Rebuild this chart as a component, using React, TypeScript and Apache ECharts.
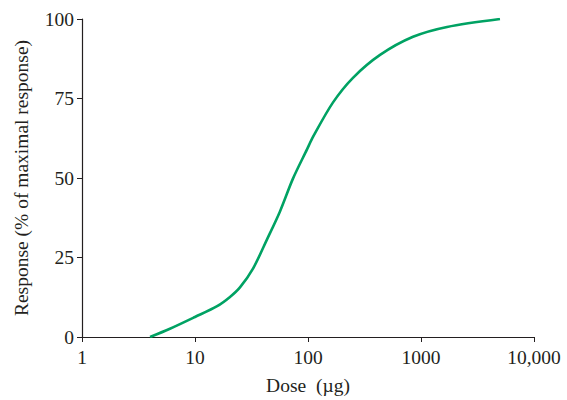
import React, { useEffect, useRef } from "react";
import * as echarts from "echarts";

const doses = [4.0, 6.0, 10, 15.7, 20.4, 25, 32.6, 43.4, 56.5, 73.6, 98, 111, 166, 250, 434, 850, 1700, 5000];
const responses = [0, 2.6, 6.3, 9.7, 12.6, 15.6, 21.5, 30.7, 39.5, 49.8, 59, 63, 73.7, 81.5, 88.7, 94.4, 97.5, 100];
const xTicks = [1, 10, 100, 1000, 10000];
const xTickLabels = ["1", "10", "100", "1000", "10,000"];
const yTicks = [0, 25, 50, 75, 100];

export default function App() {
  const ref = useRef<HTMLDivElement>(null);
  useEffect(() => {
    const chart = echarts.init(ref.current!, null, { renderer: "svg" });
    const font = "Liberation Serif";
    const fs = 19.5;
    chart.setOption({
      animation: false,
      backgroundColor: "#ffffff",
      grid: { left: 82, right: 33, top: 19, bottom: 62 },
      xAxis: {
        type: "log",
        logBase: 10,
        min: xTicks[0],
        max: xTicks[xTicks.length - 1],
        name: "Dose  (\u00b5g)",
        nameLocation: "middle",
        nameGap: 38,
        nameTextStyle: { fontFamily: font, fontSize: fs, color: "#231f20" },
        axisLine: { lineStyle: { color: "#231f20", width: 1.2 } },
        axisTick: { show: true, length: 5, lineStyle: { color: "#231f20" } },
        minorTick: { show: false },
        splitLine: { show: false },
        axisLabel: {
          fontFamily: font,
          fontSize: fs,
          color: "#231f20",
          margin: 10,
          formatter: (v: number) => {
            const i = xTicks.findIndex((t) => Math.abs(t - v) / t < 1e-6);
            return i >= 0 ? xTickLabels[i] : "";
          },
        },
      },
      yAxis: {
        type: "value",
        min: yTicks[0],
        max: yTicks[yTicks.length - 1],
        interval: 25,
        name: "Response (% of maximal response)",
        nameLocation: "middle",
        nameGap: 51,
        nameTextStyle: { fontFamily: font, fontSize: fs, color: "#231f20" },
        axisLine: { show: true, lineStyle: { color: "#231f20", width: 1.2 } },
        axisTick: { show: true, length: 5, lineStyle: { color: "#231f20" } },
        splitLine: { show: false },
        axisLabel: { fontFamily: font, fontSize: fs, color: "#231f20", margin: 8 },
      },
      series: [
        {
          type: "line",
          data: doses.map((d, i) => [d, responses[i]]),
          smooth: 0.3,
          showSymbol: false,
          lineStyle: { color: "#00a263", width: 2.6 },
        },
      ],
    });
    return () => chart.dispose();
  }, []);
  return <div ref={ref} style={{ width: 567, height: 400, position: "absolute", left: 0, top: 0 }} />;
}
